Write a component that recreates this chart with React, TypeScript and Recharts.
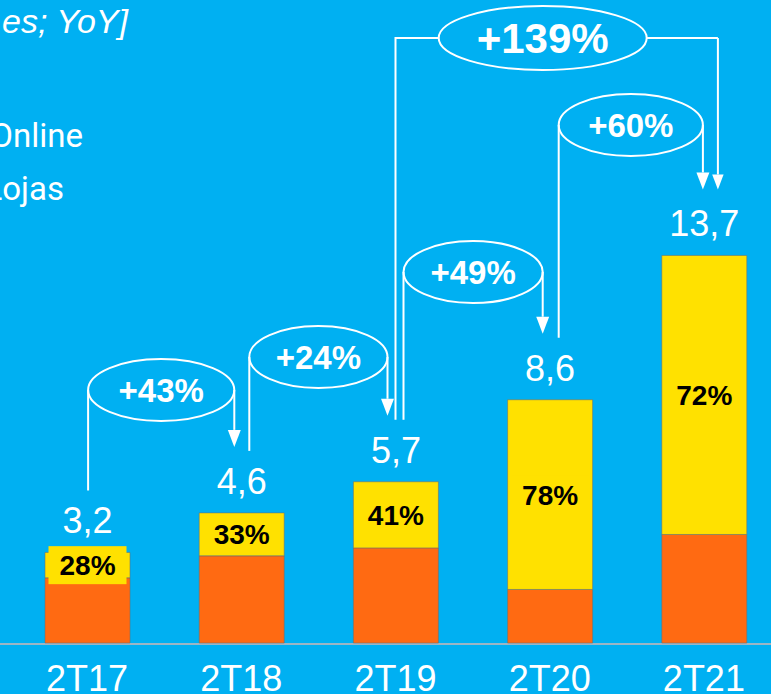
import { BarChart, Bar, XAxis, YAxis, LabelList, Customized } from 'recharts';

const periods = ['2T17', '2T18', '2T19', '2T20', '2T21'];
const totals = [3.2, 4.6, 5.7, 8.6, 13.7];
const onlineShare = [28, 33, 41, 78, 72];

// growth callouts: from bar -> to bar
const growthFrom = [0, 1, 2, 3, 2];
const growthTo = [1, 2, 3, 4, 4];
const growthLabels = ['+43%', '+24%', '+49%', '+60%', '+139%'];

const BG = '#00B0F2';
const ORANGE = '#FF6A12';
const YELLOW = '#FFE100';

const W = 771;
const H = 694;
const M = { top: 247, right: -10, left: 10, bottom: 0 };
const AXIS_H = 51;
const Y_MAX = 14;

const data = periods.map((p, i) => ({
  period: p,
  lojas: +(totals[i] * (1 - onlineShare[i] / 100)).toFixed(3),
  online: +(totals[i] * onlineShare[i] / 100).toFixed(3),
}));

// same mapping the chart uses (band scale, linear y)
const step = (W - M.left - M.right) / periods.length;
const cx = (i: number) => M.left + step * (i + 0.5);
const plotH = H - M.top - AXIS_H;
const sy = (v: number) => M.top + plotH * (1 - v / Y_MAX);

const fmt = (v: number) => v.toFixed(1).replace('.', ',');

// callout layout (pixels relative to bars)
const callouts = [
  { level: 390, rx: 73, ry: 31, dxFrom: 1, dxTo: -7, size: 33 },
  { level: 357, rx: 73, ry: 31, dxFrom: 8, dxTo: -8, size: 33 },
  { level: 272, rx: 72, ry: 31, dxFrom: 8, dxTo: -7, size: 33 },
  { level: 125, rx: 72, ry: 31, dxFrom: 9, dxTo: -1, size: 33 },
  { level: 38, rx: 104, ry: 32, dxFrom: 0, dxTo: 14, size: 42 },
];

function Arrow({ x, y1, y2, head }: { x: number; y1: number; y2: number; head: number }) {
  return (
    <g>
      <line x1={x} y1={y1} x2={x} y2={y2 - head} stroke="#fff" strokeWidth={2} />
      <polygon points={`${x - head * 0.38},${y2 - head} ${x + head * 0.38},${y2 - head} ${x},${y2}`} fill="#fff" />
    </g>
  );
}

function Overlay() {
  return (
    <g>
      <line x1={0} y1={sy(0) + 1} x2={W} y2={sy(0) + 1} stroke="#9DB5C4" strokeWidth={2} />
      {growthLabels.map((lab, k) => {
        const c = callouts[k];
        const a = growthFrom[k];
        const b = growthTo[k];
        const xa = cx(a) + c.dxFrom;
        const xb = cx(b) + c.dxTo;
        const startY = sy(totals[a]) - 62;
        const tipY = sy(totals[b]) - 66;
        if (k === 4) {
          const ex = (xa + xb) / 2 - 14;
          return (
            <g key={k}>
              <polyline points={`${xa},${startY} ${xa},${c.level} ${ex - c.rx},${c.level}`} fill="none" stroke="#fff" strokeWidth={2} />
              <ellipse cx={ex} cy={c.level} rx={c.rx} ry={c.ry} fill="none" stroke="#fff" strokeWidth={2} />
              <line x1={ex + c.rx} y1={c.level} x2={xb} y2={c.level} stroke="#fff" strokeWidth={2} />
              <Arrow x={xb} y1={c.level} y2={tipY} head={15} />
              <text x={ex} y={c.level} dy="0.36em" textAnchor="middle" fill="#fff" fontWeight={700}
                fontSize={c.size} fontFamily="Liberation Sans, Arial, sans-serif">{lab}</text>
            </g>
          );
        }
        const ex = (xa + xb) / 2;
        return (
          <g key={k}>
            <line x1={xa} y1={startY} x2={xa} y2={c.level} stroke="#fff" strokeWidth={2} />
            <ellipse cx={ex} cy={c.level} rx={(xb - xa) / 2} ry={c.ry} fill="none" stroke="#fff" strokeWidth={2} />
            <Arrow x={xb} y1={c.level} y2={tipY} head={17} />
            <text x={ex} y={c.level} dy="0.36em" textAnchor="middle" fill="#fff" fontWeight={700}
              fontSize={c.size} fontFamily="Liberation Sans, Arial, sans-serif">{lab}</text>
          </g>
        );
      })}
      <text x={128} y={33} textAnchor="end" fill="#fff" fontStyle="italic" fontSize={34} fontFamily="Liberation Sans, Arial, sans-serif">es; YoY]</text>
      <text x={83} y={147} textAnchor="end" fill="#fff" fontSize={33} fontFamily="Roboto, sans-serif">Online</text>
      <text x={64} y={200} textAnchor="end" fill="#fff" fontSize={33} fontFamily="Roboto, sans-serif">Lojas</text>
    </g>
  );
}

function TotalLabel(props: any) {
  const { x, y, width, index } = props;
  return (
    <text x={x + width / 2} y={y - 19} textAnchor="middle" fill="#fff" fontSize={36}
      fontFamily="Liberation Sans, Arial, sans-serif">{fmt(totals[index])}</text>
  );
}

function PctLabel(props: any) {
  const { x, y, width, height, index } = props;
  const mx = x + width / 2;
  const my = y + height / 2;
  return (
    <g>
      <rect x={mx - 39} y={my - 19} width={78} height={38} fill={YELLOW} />
      <text x={mx} y={my} dy="0.36em" textAnchor="middle" fill="#000" fontSize={28} fontWeight={700}
        fontFamily="Liberation Sans, Arial, sans-serif">{onlineShare[index]}%</text>
    </g>
  );
}

function Tick(props: any) {
  const { x, payload } = props;
  return (
    <text x={x} y={sy(0) + 48} textAnchor="middle" fill="#fff" fontSize={36}
      fontFamily="Liberation Sans, Arial, sans-serif">{payload.value}</text>
  );
}

export default function App() {
  return (
    <div style={{ position: 'absolute', left: 0, top: 0, width: W, height: H, background: BG, overflow: 'hidden' }}>
      <BarChart width={W} height={H} data={data} margin={M} barCategoryGap={0}>
        <XAxis dataKey="period" height={AXIS_H} axisLine={false} tickLine={false} tick={<Tick />} interval={0} />
        <YAxis hide domain={[0, Y_MAX]} />
        <Bar dataKey="lojas" stackId="a" fill={ORANGE} barSize={85} stroke="rgba(110,110,110,0.55)" strokeWidth={1} isAnimationActive={false} />
        <Bar dataKey="online" stackId="a" fill={YELLOW} barSize={85} stroke="rgba(110,110,110,0.55)" strokeWidth={1} isAnimationActive={false}>
          <LabelList dataKey="online" content={<PctLabel />} />
          <LabelList dataKey="online" content={<TotalLabel />} />
        </Bar>
        <Customized component={<Overlay />} />
      </BarChart>
    </div>
  );
}
